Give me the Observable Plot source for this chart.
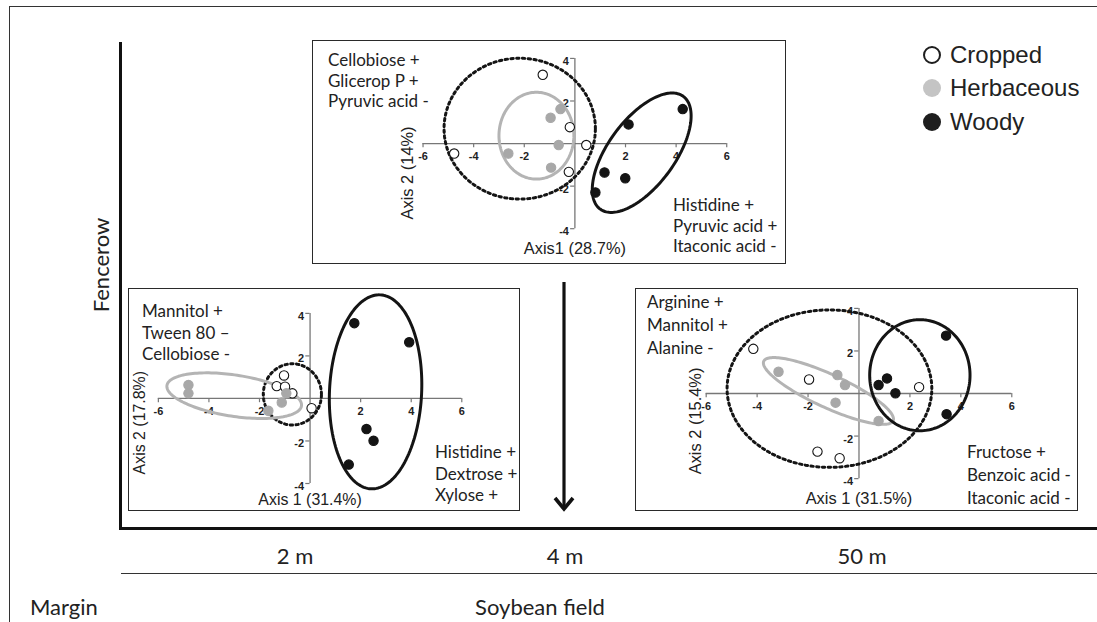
<!DOCTYPE html>
<html><head><meta charset="utf-8">
<script src="https://cdn.jsdelivr.net/npm/d3@7"></script>
<script src="https://cdn.jsdelivr.net/npm/@observablehq/plot@0.6"></script>
<style>
body{margin:0;background:#fff;}
#page{position:relative;width:1097px;height:622px;overflow:hidden;font-family:Lato,sans-serif;color:#222;}
.ln{position:absolute;background:#333;}
.box{position:absolute;border:1.5px solid #2a2a2a;box-sizing:border-box;background:#fff;}
.box svg{position:absolute;left:0;top:0;overflow:visible;}
.note{position:absolute;font-family:Lato,sans-serif;font-size:17px;white-space:pre;color:#222;}
.lab{position:absolute;font-family:Lato,sans-serif;font-size:22px;color:#222;white-space:nowrap;transform:translate(-50%,-50%);}
.leg{position:absolute;font-family:"Liberation Sans",Arial,sans-serif;font-size:24px;color:#222;white-space:nowrap;transform:translateY(-50%);}
</style></head>
<body><div id="page"></div>
<script>
// ---------------- data ----------------
const groupLabels = ["Cropped", "Herbaceous", "Woody"];
const pointGroup = [0,0,0,0,0, 1,1,1,1,1, 2,2,2,2,2];
const tickX = [-6, -4, -2, 2, 4, 6];
const tickY = [-4, -2, 2, 4];

// Fencerow panel (top)
const topAxis1 = [-1.27, -0.20, 0.45, -4.77, -0.24,  -0.57, -0.96, -0.64, -2.63, -0.94,  4.26, 2.12, 1.17, 1.99, 0.81];
const topAxis2 = [ 3.23,  0.77, -0.07, -0.47, -1.33,  1.62, 1.21, -0.07, -0.47, -1.13,  1.62, 0.90, -1.36, -1.63, -2.30];
// ellipse: centre x, centre y, semi-axis u (x,y), semi-axis v (x,y)
const topEllipses = [[-2.18, 0.70, 2.99, 0, 0, 3.31], [-1.52, 0.37, 1.48, 0, 0, 2.04], [2.64, -0.43, 1.64, 2.65, 1.06, -0.92]];
const topLeftText = ["Cellobiose +", "Glicerop P +", "Pyruvic acid -"];
const topRightText = ["Histidine +", "Pyruvic acid +", "Itaconic acid -"];
const topAxisTitles = ["Axis1 (28.7%)", "Axis 2 (14%)"];

// 2 m panel (lower left)
const m2Axis1 = [-1.03, -1.32, -0.99, -0.70, 0.06,  -4.81, -4.81, -0.94, -1.12, -1.65,  1.75, 3.92, 2.23, 2.51, 1.53];
const m2Axis2 = [ 1.08,  0.58,  0.55,  0.24, -0.46,  0.63, 0.24, 0.24, -0.19, -0.58,  3.54, 2.64, -1.44, -1.99, -3.11];
const m2Ellipses = [[-0.70, 0.19, 1.15, 0, 0, 1.44], [-3.0, 0.13, 2.66, -0.48, -0.12, -0.96], [2.59, 0.31, 0.18, 4.56, 1.82, -0.10]];
const m2LeftText = ["Mannitol +", "Tween 80 \u2013", "Cellobiose -"];
const m2RightText = ["Histidine +", "Dextrose +", "Xylose +"];
const m2AxisTitles = ["Axis 1 (31.4%)", "Axis 2 (17.8%)"];

// 50 m panel (lower right)
const m50Axis1 = [-4.15, -1.96, 2.36, -1.63, -0.76,  -3.16, -0.85, -0.55, -0.92, 0.77,  3.42, 1.10, 0.77, 1.43, 3.44];
const m50Axis2 = [ 2.10,  0.66, 0.30, -2.73, -3.04,  1.02, 0.87, 0.40, -0.43, -1.29,  2.72, 0.71, 0.40, 0.01, -0.97];
const m50Ellipses = [[-1.16, 0.23, 4.02, 0, 0, 3.70], [-1.20, 0.12, 2.54, -1.40, -0.27, -0.71], [2.39, 0.86, 1.97, 0, 0, 2.61]];
const m50LeftText = ["Arginine +", "Mannitol +", "Alanine -"];
const m50RightText = ["Fructose +", "Benzoic acid -", "Itaconic acid -"];
const m50AxisTitles = ["Axis 1 (31.5%)", "Axis 2 (15.4%)"];

const distanceLabels = ["2 m", "4 m", "50 m"];
const bottomLabels = ["Margin", "Soybean field"];
const sideLabel = "Fencerow";

// ---------------- styles ----------------
const dotFill = ["#ffffff", "#a8a8a8", "#141414"];
const dotStroke = ["#141414", "#a8a8a8", "#141414"];
const ellStroke = ["#141414", "#b4b4b4", "#141414"];
const ellDash = ["2.4 3.4", null, null];
const legendFill = ["#ffffff", "#c4c4c4", "#1e1e1e"];

const page = document.getElementById("page");
function el(tag, cls, css, text) {
  const e = document.createElement(tag);
  if (cls) e.className = cls;
  Object.assign(e.style, css);
  if (text != null) e.textContent = text;
  return e;
}

function panel(cfg) {
  const box = el("div", "box", {left: cfg.left + "px", top: cfg.top + "px", width: cfg.W + "px", height: cfg.H + "px"});
  const pts = cfg.a1.map((x, i) => ({x, y: cfg.a2[i], g: pointGroup[i]}));
  const ellRows = [];
  cfg.ell.forEach((e, g) => {
    for (let k = 0; k <= 160; k++) {
      const t = 2 * Math.PI * k / 160;
      ellRows.push({g, x: e[0] + e[2] * Math.cos(t) + e[4] * Math.sin(t), y: e[1] + e[3] * Math.cos(t) + e[5] * Math.sin(t)});
    }
  });
  const axisCol = "#777";
  const marks = [
    Plot.ruleY([0], {x1: -6, x2: 6, stroke: axisCol, strokeWidth: 1.3}),
    Plot.ruleX([0], {y1: -4, y2: 4, stroke: axisCol, strokeWidth: 1.3}),
    Plot.ruleX(tickX, {x: d => d, y1: 0, y2: -0.2, stroke: axisCol, strokeWidth: 1.2}),
    Plot.ruleY(tickY, {y: d => d, x1: -0.17, x2: 0, stroke: axisCol, strokeWidth: 1.2}),
    Plot.text(tickX, {x: d => d, y: 0, dy: 13, text: d => String(d), fontWeight: "bold", fontSize: 11, fontFamily: "Liberation Sans", fill: "#222"}),
    Plot.text(tickY, {x: 0, y: d => d, dx: -6, dy: 3, textAnchor: "end", text: d => String(d), fontWeight: "bold", fontSize: 11, fontFamily: "Liberation Sans", fill: "#222"})
  ];
  [0, 1, 2].forEach(g => {
    const opts = {x: "x", y: "y", stroke: ellStroke[g], strokeWidth: 3, curve: "linear"};
    if (ellDash[g]) opts.strokeDasharray = ellDash[g];
    marks.push(Plot.line(ellRows.filter(d => d.g === g), opts));
  });
  [0, 1, 2].forEach(g => {
    marks.push(Plot.dot(pts.filter(d => d.g === g), {x: "x", y: "y", r: 4.7, fill: dotFill[g], stroke: dotStroke[g], strokeWidth: 1.1}));
  });
  marks.push(Plot.text([cfg.titles[0]], {x: 0, y: -4, dy: cfg.xTitleDy, text: d => d, fontSize: cfg.titleSize, fontFamily: "Liberation Sans", fill: "#222"}));
  marks.push(Plot.text([cfg.titles[1]], {x: -6, y: cfg.yTitleY, dx: cfg.yTitleDx, text: d => d, rotate: -90, fontSize: cfg.titleSize, fontFamily: "Liberation Sans", fill: "#222"}));
  const svg = Plot.plot({
    width: cfg.W, height: cfg.H,
    marginLeft: cfg.x0, marginRight: cfg.W - cfg.x1, marginTop: cfg.y1, marginBottom: cfg.H - cfg.y0,
    x: {domain: [-6, 6], axis: null},
    y: {domain: [-4, 4], axis: null},
    style: {overflow: "visible", background: "transparent"},
    marks
  });
  box.appendChild(svg);
  box.appendChild(el("div", "note", {left: cfg.lt[0] + "px", top: cfg.lt[1] + "px", lineHeight: cfg.lh + "px"}, cfg.leftText.join("\n")));
  box.appendChild(el("div", "note", {left: cfg.rt[0] + "px", top: cfg.rt[1] + "px", lineHeight: cfg.lh + "px"}, cfg.rightText.join("\n")));
  page.appendChild(box);
}

// ---------------- frame / layout ----------------
page.appendChild(el("div", "ln", {left: "8.5px", top: "5.5px", width: "1090px", height: "1.6px"}));
page.appendChild(el("div", "ln", {left: "8.5px", top: "5.5px", width: "1.6px", height: "620px"}));
page.appendChild(el("div", "ln", {left: "118.5px", top: "42px", width: "3.6px", height: "488px", background: "#111"}));
page.appendChild(el("div", "ln", {left: "118.5px", top: "526.5px", width: "980px", height: "3.6px", background: "#111"}));
page.appendChild(el("div", "ln", {left: "121px", top: "572.5px", width: "980px", height: "1.6px"}));

// arrow
const arrowNS = "http://www.w3.org/2000/svg";
const asvg = document.createElementNS(arrowNS, "svg");
asvg.setAttribute("width", 40); asvg.setAttribute("height", 250);
Object.assign(asvg.style, {position: "absolute", left: "544px", top: "276px"});
asvg.innerHTML = '<line x1="20" y1="6" x2="20" y2="232" stroke="#111" stroke-width="3.2"/>' +
  '<polyline points="11,222 20,233 29,222" fill="none" stroke="#111" stroke-width="3.6" stroke-linejoin="miter"/>';
page.appendChild(asvg);

// panels
panel({left: 312, top: 40, W: 474, H: 224, x0: 110, x1: 415, y1: 17, y0: 188,
  a1: topAxis1, a2: topAxis2, ell: topEllipses, titles: topAxisTitles, titleSize: 16.5,
  xTitleDy: 20, yTitleY: -1.38, yTitleDx: -15,
  leftText: topLeftText, rightText: topRightText, lt: [15, 9], rt: [360, 154], lh: 20.5});
panel({left: 128, top: 288, W: 392, H: 223, x0: 29, x1: 334, y1: 24, y0: 195,
  a1: m2Axis1, a2: m2Axis2, ell: m2Ellipses, titles: m2AxisTitles, titleSize: 16,
  xTitleDy: 16, yTitleY: -1.14, yTitleDx: -19,
  leftText: m2LeftText, rightText: m2RightText, lt: [13, 11], rt: [306, 152], lh: 21.5});
panel({left: 635, top: 288, W: 443, H: 223, x0: 70, x1: 377, y1: 19, y0: 190,
  a1: m50Axis1, a2: m50Axis2, ell: m50Ellipses, titles: m50AxisTitles, titleSize: 16.5,
  xTitleDy: 20, yTitleY: -1.29, yTitleDx: -10,
  leftText: m50LeftText, rightText: m50RightText, lt: [11, 1], rt: [331, 151], lh: 23});

// distance labels
const distX = [295, 565, 862];
distanceLabels.forEach((t, i) => page.appendChild(el("div", "lab", {left: distX[i] + "px", top: "555px"}, t)));
page.appendChild(el("div", "lab", {left: "30px", top: "606px", transform: "translate(0,-50%)"}, bottomLabels[0]));
page.appendChild(el("div", "lab", {left: "540px", top: "606px"}, bottomLabels[1]));
page.appendChild(el("div", "lab", {left: "100px", top: "265px", transform: "translate(-50%,-50%) rotate(-90deg)"}, sideLabel));

// legend
const legY = [55, 88, 122];
groupLabels.forEach((t, i) => {
  const c = el("div", "", {position: "absolute", left: (932 - 9) + "px", top: (legY[i] - 9) + "px", width: "18px", height: "18px",
    borderRadius: "50%", boxSizing: "border-box", background: legendFill[i], border: i === 0 ? "2.6px solid #1e1e1e" : "none"});
  page.appendChild(c);
  page.appendChild(el("div", "leg", {left: "950px", top: legY[i] + "px"}, t));
});
</script>
</body></html>
